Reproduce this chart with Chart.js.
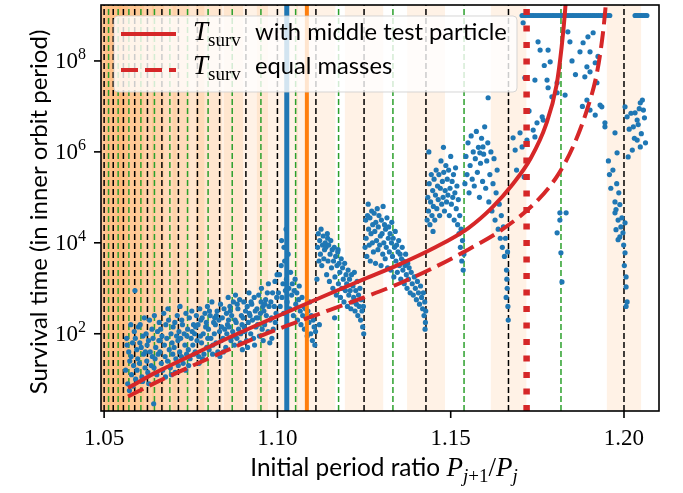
<!DOCTYPE html>
<html>
<head>
<meta charset="utf-8">
<script src="https://cdn.jsdelivr.net/npm/chart.js@4.4.1/dist/chart.umd.min.js"></script>
<style>
  html, body { margin: 0; padding: 0; background: #fff; }
  canvas { display: block; }
</style>
</head>
<body>
<canvas id="chart" width="683" height="493"></canvas>
<script>
// ── Axis ranges and ticks ────────────────────────────────────
const X_MIN = 1.0491, X_MAX = 1.2101;
const Y_MIN = 2.0, Y_MAX = 1.7e9;
const X_TICKS = [1.05, 1.10, 1.15, 1.20];
const X_TICK_LABELS = ['1.05', '1.10', '1.15', '1.20'];
const Y_TICKS = [1e2, 1e4, 1e6, 1e8];
const Y_TICK_EXP = ['2', '4', '6', '8'];

// ── Resonance markers ────────────────────────────────────────
const FIRST_ORDER = [1.2, 1.16667, 1.14286, 1.125, 1.11111, 1.1, 1.09091, 1.08333,
  1.07692, 1.07143, 1.06667, 1.0625, 1.05882, 1.05556, 1.05263, 1.05];
const SECOND_ORDER = [1.18182, 1.15385, 1.13333, 1.11765, 1.10526, 1.09524, 1.08696,
  1.08, 1.07407, 1.06897, 1.06452, 1.06061, 1.05714, 1.05405, 1.05128];
const BAND_LO = [1.1950, 1.1615, 1.1374, 1.1194, 1.1054, 1.0940, 1.0845, 1.0765, 1.0697, 1.0638,
  1.0587, 1.0541, 1.0503, 1.0468, 1.0436, 1.0408, 1.0382, 1.0359];
const BAND_HI = [1.2050, 1.1719, 1.1484, 1.1306, 1.1168, 1.1060, 1.0973, 1.0901, 1.0841, 1.0790,
  1.0747, 1.0709, 1.0673, 1.0644, 1.0616, 1.0592, 1.0570, 1.0551];
const BLUE_LINE_X = 1.1027;
const ORANGE_LINE_X = 1.1085;
const RED_DOTTED_X = 1.1719;

// ── Survival time curves: [period ratio, log10 T] ────────────
const CURVE_MIDDLE = [[1.0569,0.81],[1.065,1.15],[1.075,1.52],[1.085,1.88],[1.095,2.22],
  [1.105,2.55],[1.115,2.88],[1.125,3.2],[1.135,3.52],[1.145,3.88],[1.155,4.32],[1.162,4.78],
  [1.168,5.3],[1.173,5.85],[1.1775,6.6],[1.1805,7.45],[1.182,8.3],[1.183,9.1],[1.1836,9.8]];
const CURVE_EQUAL = [[1.0569,0.62],[1.065,0.93],[1.075,1.28],[1.085,1.62],[1.095,1.95],
  [1.105,2.24],[1.115,2.52],[1.125,2.8],[1.135,3.1],[1.145,3.45],[1.155,3.85],[1.165,4.3],
  [1.175,4.93],[1.181,5.5],[1.1855,6.15],[1.1893,6.92],[1.1922,7.74],[1.1939,8.6],
  [1.1948,9.3],[1.1953,9.9]];

// ── Simulations: [period ratio, log10 survival time] ─────────
const SIM_LEFT = [
  [1.0562,1.2],[1.0565,1.9],[1.0568,0.9],[1.0571,1.6],[1.0574,1.4],[1.0577,2.2],[1.0579,1.1],[1.0566,1.75],[1.0573,0.75],[1.0578,1.5],
  [1.0582,1.8],[1.0585,1.3],[1.0587,2.05],[1.0589,2.95],[1.0591,1.0],[1.0594,1.65],[1.0597,1.45],[1.0599,2.15],[1.0583,0.85],[1.0595,1.2],[1.0590,1.9],
  [1.0602,1.35],[1.0604,2.2],[1.0607,1.7],[1.0609,1.05],[1.0612,1.95],[1.0614,1.55],[1.0616,2.35],[1.0618,1.25],[1.0603,1.8],[1.0611,0.95],[1.0619,1.6],
  [1.0621,2.0],[1.0623,1.4],[1.0626,1.15],[1.0628,1.85],[1.0631,2.3],[1.0633,1.6],[1.0636,1.3],[1.0638,2.1],[1.0624,1.75],[1.0639,1.5],[1.0629,0.9],
  [1.0641,1.9],[1.0643,0.46],[1.0645,2.4],[1.0647,1.45],[1.0649,1.7],[1.0652,1.1],[1.0654,2.05],[1.0656,1.55],[1.0658,1.85],[1.0644,1.25],[1.0659,2.25],
  [1.0661,1.6],[1.0663,2.1],[1.0665,1.35],[1.0667,1.95],[1.0669,1.2],[1.0672,2.45],[1.0674,1.75],[1.0676,1.5],[1.0678,2.2],[1.0662,1.85],[1.0677,1.05],
  [1.0681,1.9],[1.0683,1.4],[1.0686,2.3],[1.0688,1.65],[1.0691,1.25],[1.0693,2.0],[1.0696,1.8],[1.0698,1.55],[1.0684,2.55],[1.0694,1.1],[1.0699,2.15],
  [1.0702,1.7],[1.0704,2.25],[1.0707,1.45],[1.0709,1.95],[1.0711,2.4],[1.0714,1.3],[1.0716,2.05],[1.0718,1.6],[1.0705,1.15],[1.0713,1.85],[1.0719,2.6],
  [1.0721,1.9],[1.0723,1.5],[1.0726,2.2],[1.0728,1.35],[1.0731,2.0],[1.0733,1.75],[1.0736,2.45],[1.0738,1.55],[1.0724,2.3],[1.0735,1.2],[1.0739,1.95],
  [1.0741,2.1],[1.0743,1.65],[1.0746,2.35],[1.0748,1.45],[1.0751,1.9],[1.0753,2.5],[1.0756,1.75],[1.0758,2.2],[1.0744,1.3],[1.0754,2.05],[1.0759,1.55],
  [1.0761,2.0],[1.0763,1.6],[1.0766,2.4],[1.0768,1.85],[1.0771,2.2],[1.0773,1.5],[1.0776,2.55],[1.0778,1.95],[1.0764,2.15],[1.0774,1.35],[1.0779,2.3],
  [1.0781,1.8],[1.0783,2.35],[1.0786,2.0],[1.0788,1.55],[1.0791,2.45],[1.0793,2.15],[1.0796,1.7],[1.0798,2.6],[1.0784,1.45],[1.0795,2.25],[1.0799,1.9],
  [1.0801,2.1],[1.0803,1.65],[1.0806,2.4],[1.0808,1.9],[1.0811,2.7],[1.0813,1.55],[1.0816,2.25],[1.0818,2.0],[1.0804,2.5],[1.0814,1.75],[1.0819,2.35],
  [1.0821,2.2],[1.0823,1.8],[1.0826,2.5],[1.0828,1.6],[1.0831,2.3],[1.0833,2.05],[1.0836,2.65],[1.0838,1.85],[1.0824,2.4],[1.0834,1.5],[1.0839,2.15],
  [1.0841,2.35],[1.0843,1.9],[1.0846,2.55],[1.0848,2.1],[1.0851,1.7],[1.0853,2.45],[1.0856,2.2],[1.0858,2.8],[1.0844,1.6],[1.0854,2.0],[1.0859,2.3],
  [1.0861,2.15],[1.0863,2.6],[1.0866,1.85],[1.0868,2.4],[1.0871,2.05],[1.0873,2.7],[1.0876,1.75],[1.0878,2.3],[1.0864,2.5],[1.0874,1.95],[1.0879,2.85],
  [1.0881,2.25],[1.0883,1.9],[1.0886,2.55],[1.0888,2.1],[1.0891,2.75],[1.0893,1.8],[1.0896,2.4],[1.0898,2.2],[1.0884,2.65],[1.0894,2.0],[1.0899,1.65],
  [1.0901,2.35],[1.0903,2.7],[1.0906,2.05],[1.0908,2.5],[1.0911,1.85],[1.0913,2.6],[1.0916,2.25],[1.0918,2.9],[1.0904,2.15],[1.0914,1.7],[1.0919,2.45],
  [1.0921,2.4],[1.0923,2.0],[1.0926,2.65],[1.0928,2.3],[1.0931,1.9],[1.0933,2.8],[1.0936,2.5],[1.0938,2.15],[1.0924,2.7],[1.0934,1.75],[1.0939,2.35],
  [1.0941,2.55],[1.0943,2.2],[1.0946,2.85],[1.0948,1.95],[1.0951,2.45],[1.0953,2.7],[1.0956,2.1],[1.0958,2.6],[1.0944,2.35],[1.0954,3.0],[1.0959,1.85],
  [1.0961,2.5],[1.0963,2.2],[1.0966,2.75],[1.0968,2.4],[1.0971,2.9],[1.0973,2.05],[1.0976,2.6],[1.0978,1.8],[1.0964,2.65],[1.0974,3.1],[1.0979,2.3],
  [1.0981,2.7],[1.0983,2.35],[1.0986,2.9],[1.0988,2.1],[1.0991,2.6],[1.0993,3.15],[1.0996,2.45],[1.0998,2.8],[1.0984,1.9],[1.0994,2.25],[1.0999,3.3]
];
const SIM_MID = [
  [1.1003,2.9],[1.1006,3.3],[1.1008,2.6],[1.1011,3.5],[1.1013,2.8],[1.1016,3.1],[1.1018,2.45],[1.1021,3.6],[1.1023,2.95],[1.1026,3.2],
  [1.1028,2.7],[1.1031,3.75],[1.1033,3.0],[1.1036,2.55],[1.1038,3.35],[1.1041,2.85],[1.1043,3.1],[1.1046,2.4],[1.1048,2.95],[1.1051,3.2],
  [1.1053,2.65],[1.1056,2.9],[1.1058,2.3],[1.1061,2.75],[1.1063,3.05],[1.1066,2.5],[1.1068,2.2],[1.1071,2.8],[1.1073,2.4],[1.1076,2.6],
  [1.1078,2.1],[1.1081,2.55],[1.1083,2.35],[1.1086,1.95],[1.1088,2.5],[1.1091,2.25],[1.1093,2.7],[1.1096,2.0],[1.1098,2.4],[1.1101,1.85],
  [1.1103,2.3],[1.1106,2.15],[1.1108,1.75],[1.1110,2.05],[1.1012,4.05],[1.1025,4.3],[1.1019,3.9],
  [1.1114,3.2],[1.1116,3.9],[1.1118,4.2],[1.112,3.6],[1.1122,4.05],[1.1124,3.75],[1.1126,4.3],[1.1128,3.5],[1.113,3.95],[1.1132,4.15],
  [1.1134,3.65],[1.1136,3.85],[1.1138,4.0],[1.1121,2.2],[1.1165,2.35],[1.1175,3.85],[1.1145,4.1],
  [1.1140,3.9],[1.1142,3.3],[1.1144,4.2],[1.1146,3.6],[1.1148,3.95],[1.1150,3.15],[1.1152,3.75],[1.1154,4.05],[1.1156,3.45],[1.1158,3.85],
  [1.1160,3.0],[1.1162,3.6],[1.1164,3.9],[1.1166,3.25],[1.1168,3.7],[1.1170,2.85],[1.1172,3.5],[1.1174,3.8],[1.1176,3.1],[1.1178,3.55],
  [1.1180,3.35],[1.1182,2.8],[1.1184,3.65],[1.1186,3.0],[1.1188,3.45],[1.1190,3.2],[1.1192,2.7],[1.1194,3.55],[1.1196,2.95],[1.1198,3.3],
  [1.1200,3.1],[1.1202,2.6],[1.1204,3.4],[1.1206,2.85],[1.1208,3.2],[1.1210,2.95],[1.1212,2.55],[1.1214,3.3],[1.1216,2.7],[1.1218,3.05],
  [1.1220,2.8],[1.1222,3.35],[1.1224,2.5],[1.1226,2.95],[1.1228,2.65],[1.1230,3.15],[1.1232,2.4],[1.1234,2.85],[1.1236,2.6],[1.1238,3.0],
  [1.1240,2.3],[1.1242,2.75],[1.1244,2.5],[1.1246,2.15],[1.1248,2.6],[1.1249,2.0]
];
const SIM_UPPER = [
  [1.1253,3.9],[1.1255,4.5],[1.1256,4.1],[1.1258,3.7],[1.1260,4.6],[1.1262,4.85],[1.1263,4.3],[1.1265,3.95],[1.1267,4.55],[1.1268,3.6],
  [1.1270,4.2],[1.1272,4.7],[1.1274,4.0],[1.1275,4.4],[1.1277,3.8],[1.1279,4.65],[1.1281,4.25],[1.1283,3.55],[1.1284,4.45],[1.1286,4.05],
  [1.1288,4.75],[1.1290,3.85],[1.1291,4.35],[1.1293,4.6],[1.1295,3.95],[1.1297,4.15],[1.1299,3.5],[1.1300,4.5],[1.1302,4.2],[1.1304,3.75],
  [1.1305,4.8],[1.1307,4.0],[1.1309,4.4],[1.1311,3.65],[1.1312,4.3],[1.1314,3.9],[1.1316,4.55],[1.1318,3.45],[1.1320,4.1],[1.1321,4.35],
  [1.1323,3.8],[1.1325,4.2],[1.1327,3.4],[1.1329,4.0],[1.1330,4.45],[1.1332,3.7],[1.1334,4.1],[1.1336,3.25],[1.1338,3.9],[1.1340,4.25],
  [1.1342,3.6],[1.1344,3.95],[1.1346,3.35],[1.1348,3.8],[1.1350,4.05],[1.1352,3.5],[1.1354,3.75],[1.1356,3.2],[1.1358,3.65],[1.1360,3.9],
  [1.1362,3.4],[1.1364,3.6],[1.1366,3.1],[1.1368,3.5],[1.1370,3.75],[1.1372,3.3],[1.1374,3.0],[1.1376,3.55],[1.1378,3.2],[1.1380,3.45],
  [1.1383,2.9],[1.1386,3.35],[1.1389,3.1],[1.1392,2.85],[1.1395,3.25],[1.1398,3.0],[1.1401,2.75],[1.1404,3.15],[1.1407,2.9],[1.1410,2.65],
  [1.1413,3.05],[1.1416,2.8],[1.1419,2.55],[1.1421,2.9],[1.1423,2.4],[1.1425,2.7],[1.1426,2.1],[1.1427,2.25],[1.1428,2.5],
  [1.1432,4.5],[1.1434,5.0],[1.1436,4.7],[1.1438,5.3],[1.144,4.4],[1.1442,4.9],[1.1444,5.5],[1.1446,4.6],[1.1448,5.15],[1.145,4.8],
  [1.1452,5.4],[1.1454,4.5],[1.1456,5.05],[1.1458,5.6],[1.146,4.75],[1.1462,5.25],[1.1464,4.95],[1.1466,5.5],[1.1468,4.6],[1.147,5.2],
  [1.1472,5.8],[1.1474,4.85],[1.1476,5.35],[1.1478,5.0],[1.148,5.55],[1.1482,4.7],[1.1484,5.15],[1.1486,5.7],[1.1488,4.9],[1.149,5.4],
  [1.1492,5.05],[1.1494,5.6],[1.1496,4.6],[1.1498,5.2],[1.15,5.9],[1.1502,4.85],[1.1504,5.35],[1.1506,5.0],[1.1508,5.5],[1.151,4.5],
  [1.1512,5.1],[1.1514,5.65],[1.1516,4.75],[1.1518,5.25],[1.152,4.4],[1.1522,4.95],[1.1524,4.2],[1.1526,4.6],[1.1528,3.9],[1.153,4.3],
  [1.1532,3.6],[1.1534,4.05],[1.1536,3.4],[1.1538,3.75],[1.1437,6.0],[1.1479,6.1],[1.1449,4.25],
  [1.1541,5.3],[1.1544,5.9],[1.1547,5.5],[1.155,6.2],[1.1553,5.1],[1.1556,5.7],[1.1559,6.35],[1.1562,5.4],[1.1565,6.0],[1.1568,5.25],
  [1.1571,5.85],[1.1574,6.45],[1.1577,5.55],[1.158,6.1],[1.1583,5.0],[1.1586,5.75],[1.1589,6.3],[1.1592,5.35],[1.1595,5.95],[1.1598,6.55],
  [1.1601,5.2],[1.1604,5.8],[1.1607,6.2],[1.161,4.9],[1.1613,5.5],[1.1616,6.0],[1.1619,4.7],[1.1622,5.3],[1.1625,5.85],[1.1628,4.5],
  [1.1631,5.1],[1.1634,5.6],[1.1637,4.3],[1.164,4.85],[1.1643,4.1],[1.1646,4.6],[1.1649,3.9],[1.1652,4.35],[1.1655,3.7],[1.1658,4.1],
  [1.1661,3.4],[1.1663,3.0],[1.1664,3.8],[1.1665,2.6],[1.1666,2.3],[1.1662,3.2],[1.1660,2.8]
];
const SIM_RIGHT = [
  [1.1593,6.11],[1.1608,7.19],[1.1584,5.98],[1.1680,6.31],[1.1700,6.42],[1.1686,6.04],[1.1706,6.11],[1.1720,6.26],[1.1709,8.84],[1.1714,7.63],
  [1.1743,7.58],[1.1752,8.42],[1.1758,8.24],[1.1781,8.24],[1.1787,7.98],[1.1778,7.58],[1.1781,7.41],[1.1792,7.21],[1.1807,7.3],[1.1830,7.25],
  [1.1838,8.64],[1.1844,8.42],[1.1873,8.2],[1.1882,8.4],[1.1896,8.53],[1.1902,8.2],[1.1911,8.62],[1.1917,7.96],[1.1893,7.87],[1.1902,7.76],
  [1.1887,7.65],[1.1922,7.52],[1.1936,6.99],[1.1945,6.64],[1.1893,7.14],[1.1902,6.92],[1.1917,6.81],[1.1931,7.03],[1.1945,6.55],[1.1974,6.42],
  [1.1980,5.98],[1.1764,6.77],[1.1767,6.7],[1.1749,6.64],[1.1738,6.48],[1.1743,6.33],[1.1807,7.52],
  [1.2003,6.99],[1.2009,6.77],[1.2032,6.86],[1.2038,6.7],[1.2047,7.08],[1.2053,7.14],[1.2056,6.92],[1.2027,6.55],[1.2038,6.26],[1.2047,6.11],
  [1.2024,6.04],[1.2012,5.89],[1.2015,6.5],[1.2020,6.85],[1.2030,6.3],[1.2041,6.6],[1.2050,6.4],[1.2059,6.75],[1.2062,6.2],[1.2044,6.95],
  [1.1974,4.9],[1.1977,4.73],[1.1988,4.84],[1.1983,4.5],[1.1977,4.29],[1.1991,4.35],[1.1988,4.13],[1.1983,4.07],[1.2003,4.44],[1.2003,3.78],
  [1.2006,3.25],[1.2006,3.03],[1.2009,2.7],[1.2006,2.6],[1.1997,4.22],[1.1974,4.66],[1.1979,5.3],[1.1968,5.6],[1.1985,5.1],[1.1994,4.55],
  [1.1999,3.95],[1.2001,3.5],
  [1.1815,4.66],[1.1807,4.22],[1.1815,4.5],[1.1818,3.78],[1.1821,3.14],[1.1833,4.66],
  [1.1690,5.6],[1.1712,5.45],[1.1726,6.9],[1.1770,7.9],[1.1860,7.7],[1.1880,7.0],[1.1925,8.1],[1.1850,8.0],[1.1955,5.8],[1.1958,5.5],[1.1962,5.2]
];
// runs that survived to the end of the integration
const SIM_CAPPED_X = [1.1706,1.1711,1.1717,1.1723,1.1729,1.1735,1.1740,1.1746,1.1752,1.1758,1.1764,1.1769,
  1.1775,1.1781,1.1787,1.1793,1.1798,1.1804,1.1810,1.1816,1.1822,1.1827,1.1833,1.1839,1.1845,1.1851,1.1856,
  1.1862,1.1868,1.1874,1.1880,1.1885,1.1891,1.1897,1.1903,1.1909,1.1914,1.1920,1.1926,1.1932,1.1938,1.1943,
  1.1949,1.1955,1.1959,1.2032,1.2036,1.2041,1.2046,1.2051,1.2056,1.2061,1.2066];
const SIM_CAPPED_LOG_T = 9;

// ── Styles ───────────────────────────────────────────────────
const BLUE = '#1f77b4';
const ORANGE = '#ff7f0e';
const RED = '#d62728';
const GREEN = '#2ca02c';
const BAND_FILL = 'rgba(255,127,14,0.10)';
const SERIF = '"Liberation Serif", serif';
const SANS = 'Lato, "DejaVu Sans", sans-serif';

const toPoints = (pairs) => pairs.map(([x, lg]) => ({ x, y: Math.pow(10, lg) }));
const vertical = (x) => [{ x, y: Y_MIN }, { x, y: Y_MAX }];

const datasets = [];

BAND_LO.forEach((lo, i) => {
  datasets.push({
    type: 'line', data: [{ x: lo, y: Y_MAX }, { x: BAND_HI[i], y: Y_MAX }],
    fill: 'start', backgroundColor: BAND_FILL, borderWidth: 0, pointRadius: 0, order: 9,
  });
});
FIRST_ORDER.forEach((r) => datasets.push({
  type: 'line', data: vertical(r), borderColor: '#000', borderWidth: 1.5,
  borderDash: [6, 3], pointRadius: 0, fill: false, order: 8,
}));
SECOND_ORDER.forEach((r) => datasets.push({
  type: 'line', data: vertical(r), borderColor: GREEN, borderWidth: 1.5,
  borderDash: [6, 3], pointRadius: 0, fill: false, order: 8,
}));

datasets.push({
  type: 'scatter',
  data: toPoints([...SIM_LEFT, ...SIM_MID, ...SIM_UPPER, ...SIM_RIGHT])
    .concat(SIM_CAPPED_X.map((x) => ({ x, y: Math.pow(10, SIM_CAPPED_LOG_T) }))),
  backgroundColor: BLUE, borderWidth: 0, pointRadius: 2.6, order: 5,
});

datasets.push({ type: 'line', data: vertical(BLUE_LINE_X), borderColor: BLUE, borderWidth: 5, pointRadius: 0, order: 4 });
datasets.push({ type: 'line', data: vertical(ORANGE_LINE_X), borderColor: ORANGE, borderWidth: 4, pointRadius: 0, order: 4 });
datasets.push({
  type: 'line', data: vertical(RED_DOTTED_X), borderColor: RED, borderWidth: 6.5,
  borderDash: [6, 10.5], borderCapStyle: 'butt', pointRadius: 0, order: 3,
});
datasets.push({
  type: 'line', data: toPoints(CURVE_EQUAL), borderColor: RED, borderWidth: 4,
  borderDash: [17, 7], cubicInterpolationMode: 'monotone', pointRadius: 0, order: 2,
});
datasets.push({
  type: 'line', data: toPoints(CURVE_MIDDLE), borderColor: RED, borderWidth: 4,
  cubicInterpolationMode: 'monotone', pointRadius: 0, order: 1,
});

// ── Text helpers ─────────────────────────────────────────────
function widthOf(ctx, parts) {
  let w = 0;
  parts.forEach((p) => { ctx.font = p[1]; w += ctx.measureText(p[0]).width; });
  return w;
}

function rich(ctx, parts, x, y, align) {
  const w = widthOf(ctx, parts);
  let cx = align === 'center' ? x - w / 2 : align === 'right' ? x - w : x;
  parts.forEach((p) => {
    ctx.font = p[1];
    ctx.fillText(p[0], cx, y + (p[2] || 0));
    cx += ctx.measureText(p[0]).width;
  });
  return w;
}

function fitSize(ctx, text, family, target) {
  ctx.font = `20px ${family}`;
  return 20 * target / ctx.measureText(text).width;
}

const TSURV = [['T', `italic 27px ${SERIF}`, 0], ['surv', `19px ${SERIF}`, 6]];

// ── Frame, ticks, titles, legend ─────────────────────────────
const decorations = {
  id: 'decorations',
  afterDraw(chart) {
    const { ctx, chartArea: a, scales: { x, y } } = chart;
    ctx.save();
    ctx.textBaseline = 'alphabetic';

    // legend
    ctx.beginPath();
    ctx.roundRect(114, 16, 403, 76, 4);
    ctx.fillStyle = 'rgba(255,255,255,0.8)';
    ctx.fill();
    ctx.strokeStyle = 'rgba(204,204,204,0.8)';
    ctx.lineWidth = 1;
    ctx.stroke();
    ctx.strokeStyle = RED;
    ctx.lineWidth = 4;
    ctx.beginPath(); ctx.moveTo(121, 34); ctx.lineTo(176, 34); ctx.stroke();
    ctx.setLineDash([17, 7]);
    ctx.beginPath(); ctx.moveTo(121, 70); ctx.lineTo(176, 70); ctx.stroke();
    ctx.setLineDash([]);
    ctx.fillStyle = '#000';
    const legSize = fitSize(ctx, 'with middle test particle', SANS, 252);
    rich(ctx, TSURV, 193, 40, 'left');
    rich(ctx, [['with middle test particle', `${legSize}px ${SANS}`, 0]], 255, 40, 'left');
    rich(ctx, TSURV, 193, 74, 'left');
    rich(ctx, [['equal masses', `${legSize}px ${SANS}`, 0]], 255, 74, 'left');

    // frame
    ctx.strokeStyle = '#000';
    ctx.lineWidth = 1.6;
    ctx.strokeRect(a.left, a.top, a.right - a.left, a.bottom - a.top);

    // x ticks
    X_TICKS.forEach((v, i) => {
      const px = x.getPixelForValue(v);
      ctx.beginPath(); ctx.moveTo(px, a.bottom); ctx.lineTo(px, a.bottom + 7); ctx.stroke();
      rich(ctx, [[X_TICK_LABELS[i], `23px ${SERIF}`, 0]], px, 445, 'center');
    });
    // y ticks
    Y_TICKS.forEach((v, i) => {
      const py = y.getPixelForValue(v);
      ctx.beginPath(); ctx.moveTo(a.left, py); ctx.lineTo(a.left - 7, py); ctx.stroke();
      ctx.font = `16px ${SERIF}`;
      const we = ctx.measureText(Y_TICK_EXP[i]).width;
      rich(ctx, [['10', `23px ${SERIF}`, 0]], 86 - we, py + 7, 'right');
      rich(ctx, [[Y_TICK_EXP[i], `16px ${SERIF}`, 0]], 86, py - 2, 'right');
    });

    // x title
    const xMath = [
      ['P', `italic 27px ${SERIF}`, 0], ['j', `italic 19px ${SERIF}`, 6], ['+1', `19px ${SERIF}`, 6],
      ['/', `27px ${SERIF}`, 0], ['P', `italic 27px ${SERIF}`, 0], ['j', `italic 19px ${SERIF}`, 6],
    ];
    const xs = fitSize(ctx, 'Initial period ratio', SANS, 190);
    const xText = [['Initial period ratio ', `${xs}px ${SANS}`, 0], ...xMath];
    rich(ctx, xText, 384, 476, 'center');

    // y title
    const yt = 'Survival time (in inner orbit period)';
    const ys = fitSize(ctx, yt, SANS, 365);
    ctx.translate(47, 212);
    ctx.rotate(-Math.PI / 2);
    rich(ctx, [[yt, `${ys}px ${SANS}`, 0]], 0, 0, 'center');
    ctx.restore();
  },
};

new Chart(document.getElementById('chart'), {
  type: 'scatter',
  data: { datasets },
  options: {
    responsive: false,
    animation: false,
    devicePixelRatio: 1,
    layout: { padding: { left: 101, top: 5, right: 24, bottom: 82 } },
    plugins: { legend: { display: false }, tooltip: { enabled: false } },
    scales: {
      x: {
        type: 'linear', min: X_MIN, max: X_MAX,
        grid: { display: false }, border: { display: false }, ticks: { display: false },
        afterFit: (s) => { s.height = 0; },
      },
      y: {
        type: 'logarithmic', min: Y_MIN, max: Y_MAX,
        grid: { display: false }, border: { display: false }, ticks: { display: false },
        afterFit: (s) => { s.width = 0; },
      },
    },
  },
  plugins: [decorations],
});
</script>
</body>
</html>
